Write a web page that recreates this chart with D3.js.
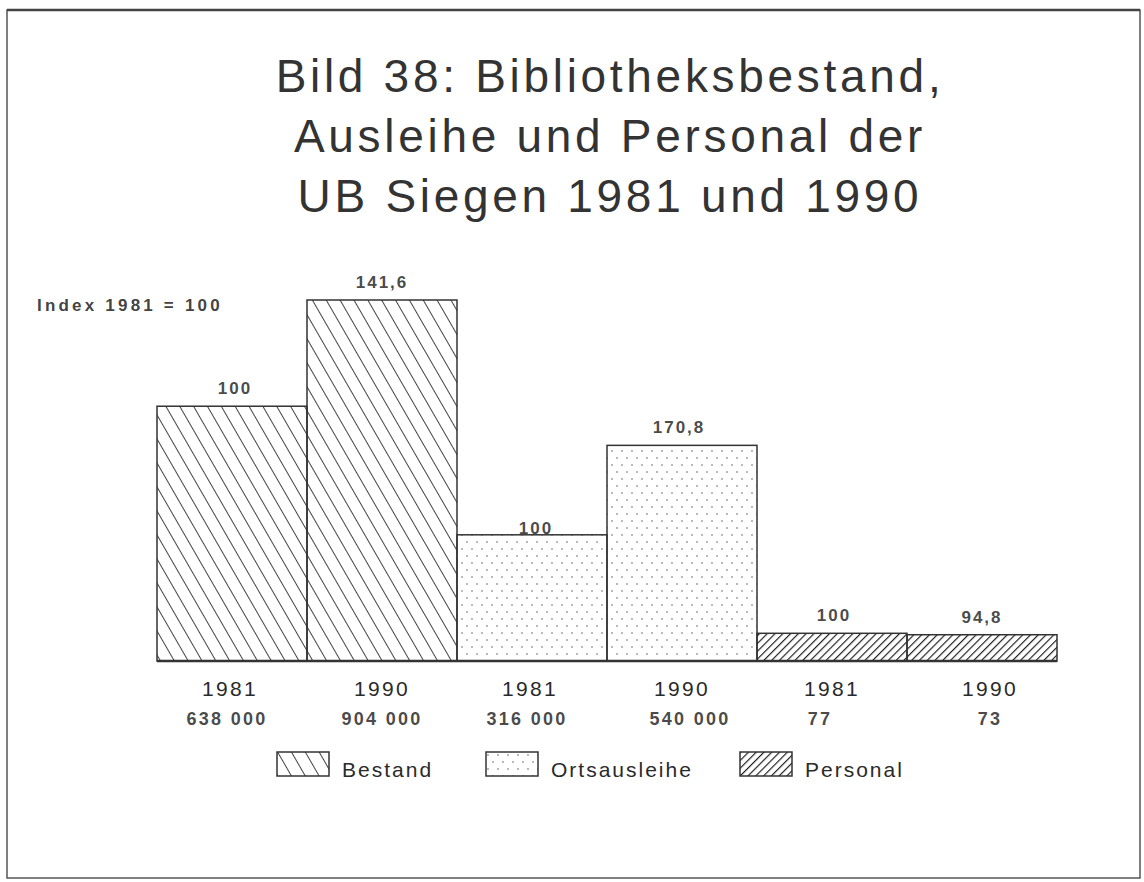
<!DOCTYPE html>
<html>
<head>
<meta charset="utf-8">
<script src="https://cdn.jsdelivr.net/npm/d3@7"></script>
<style>
  body { margin: 0; background: #fff; }
  svg text { font-family: "Liberation Sans", Arial, sans-serif; fill: #2a2a2a; }
</style>
</head>
<body>
<svg></svg>
<script>
const width = 1144, height = 882

// data
const titleLines = ["Bild 38: Bibliotheksbestand,", "Ausleihe und Personal der", "UB Siegen 1981 und 1990"]
const years = ["1981", "1990", "1981", "1990", "1981", "1990"]
const groups = ["Bestand", "Bestand", "Ortsausleihe", "Ortsausleihe", "Personal", "Personal"]
const absValues = [638000, 904000, 316000, 540000, 77, 73]
const absLabels = ["638 000", "904 000", "316 000", "540 000", "77", "73"]
const indexLabels = ["100", "141,6", "100", "170,8", "100", "94,8"]
const legendItems = ["Bestand", "Ortsausleihe", "Personal"]

const svg = d3.select("svg")
    .attr("width", width)
    .attr("height", height);

// frame of the scanned page
svg.append("rect")
    .attr("x", 7).attr("y", 10)
    .attr("width", 1133).attr("height", 868)
    .attr("fill", "none")
    .attr("stroke", "#555")
    .attr("stroke-width", 1.5);
svg.append("line")
    .attr("x1", 7).attr("x2", 1140).attr("y1", 10).attr("y2", 10)
    .attr("stroke", "#444").attr("stroke-width", 2.5);

// patterns
const defs = svg.append("defs");
defs.append("pattern")
    .attr("id", "pBestand")
    .attr("patternUnits", "userSpaceOnUse")
    .attr("width", 12).attr("height", 12)
    .attr("patternTransform", "rotate(-30)")
    .append("line")
    .attr("x1", 0).attr("y1", 0).attr("x2", 0).attr("y2", 12)
    .attr("stroke", "#222").attr("stroke-width", 1.7);

const dots = defs.append("pattern")
    .attr("id", "pOrts")
    .attr("patternUnits", "userSpaceOnUse")
    .attr("width", 10).attr("height", 14);
dots.append("circle").attr("cx", 2).attr("cy", 3).attr("r", 0.9).attr("fill", "#999");
dots.append("circle").attr("cx", 7).attr("cy", 10).attr("r", 0.9).attr("fill", "#999");

defs.append("pattern")
    .attr("id", "pPersonal")
    .attr("patternUnits", "userSpaceOnUse")
    .attr("width", 5.5).attr("height", 10)
    .attr("patternTransform", "rotate(45)")
    .append("line")
    .attr("x1", 0).attr("y1", 0).attr("x2", 0).attr("y2", 10)
    .attr("stroke", "#1a1a1a").attr("stroke-width", 2.3);

const fills = { "Bestand": "url(#pBestand)", "Ortsausleihe": "url(#pOrts)", "Personal": "url(#pPersonal)" }

// title
svg.selectAll(".title")
    .data(titleLines)
    .enter()
    .append("text")
    .attr("class", "title")
    .attr("x", 610)
    .attr("y", (d, i) => 92 + i * 60)
    .attr("text-anchor", "middle")
    .attr("font-size", 46)
    .attr("letter-spacing", "3.7px")
    .style("fill", "#333")
    .text(d => d);

// scales
const baseY = 661;
const x = d3.scaleBand()
    .domain(d3.range(years.length))
    .range([157, 1057])
    .padding(0);

// volumes and loans share one scale, staff has its own
const yVol = d3.scaleLinear().domain([0, 904000]).range([baseY, 300]);
const yPers = d3.scaleLinear().domain([0, 77]).range([baseY, 633.3]);
const yOf = i => groups[i] === "Personal" ? yPers(absValues[i]) : yVol(absValues[i]);

svg.selectAll(".bar")
    .data(absValues)
    .enter()
    .append("rect")
    .attr("class", "bar")
    .attr("x", (d, i) => x(i))
    .attr("y", (d, i) => yOf(i))
    .attr("width", x.bandwidth())
    .attr("height", (d, i) => baseY - yOf(i))
    .attr("fill", (d, i) => fills[groups[i]])
    .attr("stroke", "#333")
    .attr("stroke-width", 1.5);

svg.append("line")
    .attr("x1", 157).attr("x2", 1057)
    .attr("y1", baseY).attr("y2", baseY)
    .attr("stroke", "#333").attr("stroke-width", 2.5);

// index labels above bars
const idxOffsetX = [3, 0, 4, -3, 2, 0];
svg.selectAll(".idx")
    .data(indexLabels)
    .enter()
    .append("text")
    .attr("x", (d, i) => x(i) + x.bandwidth() / 2 + idxOffsetX[i])
    .attr("y", (d, i) => yOf(i) - (i === 2 ? 1 : 12))
    .attr("text-anchor", "middle")
    .attr("font-size", 17)
    .attr("font-weight", "bold")
    .attr("letter-spacing", "2px")
    .attr("fill-opacity", 0.85)
    .text(d => d);

svg.append("text")
    .attr("x", 37).attr("y", 311)
    .attr("font-size", 17)
    .attr("font-weight", "bold")
    .attr("letter-spacing", "3.2px")
    .attr("fill-opacity", 0.9)
    .text("Index 1981 = 100");

// year and absolute value labels
const yearOffsetX = [-2, 0, -2, 0, 0, 8];
svg.selectAll(".year")
    .data(years)
    .enter()
    .append("text")
    .attr("x", (d, i) => x(i) + x.bandwidth() / 2 + yearOffsetX[i])
    .attr("y", 696)
    .attr("text-anchor", "middle")
    .attr("font-size", 21)
    .attr("letter-spacing", "2.3px")
    .text(d => d);

const absOffsetX = [-5, 0, -5, 8, -12, 8];
svg.selectAll(".abs")
    .data(absLabels)
    .enter()
    .append("text")
    .attr("x", (d, i) => x(i) + x.bandwidth() / 2 + absOffsetX[i])
    .attr("y", 725)
    .attr("text-anchor", "middle")
    .attr("font-size", 18)
    .attr("font-weight", "bold")
    .attr("letter-spacing", "2.3px")
    .attr("fill-opacity", 0.85)
    .text(d => d);

// legend
const legendX = [277, 486, 740];
const leg = svg.selectAll(".leg")
    .data(legendItems)
    .enter()
    .append("g")
    .attr("transform", (d, i) => `translate(${legendX[i]},752)`);
leg.append("rect")
    .attr("width", 52).attr("height", 24)
    .attr("fill", d => fills[d])
    .attr("stroke", "#333")
    .attr("stroke-width", 1.5);
leg.append("text")
    .attr("x", 65).attr("y", 25)
    .attr("font-size", 21)
    .attr("letter-spacing", "2px")
    .text(d => d);
</script>
</body>
</html>
